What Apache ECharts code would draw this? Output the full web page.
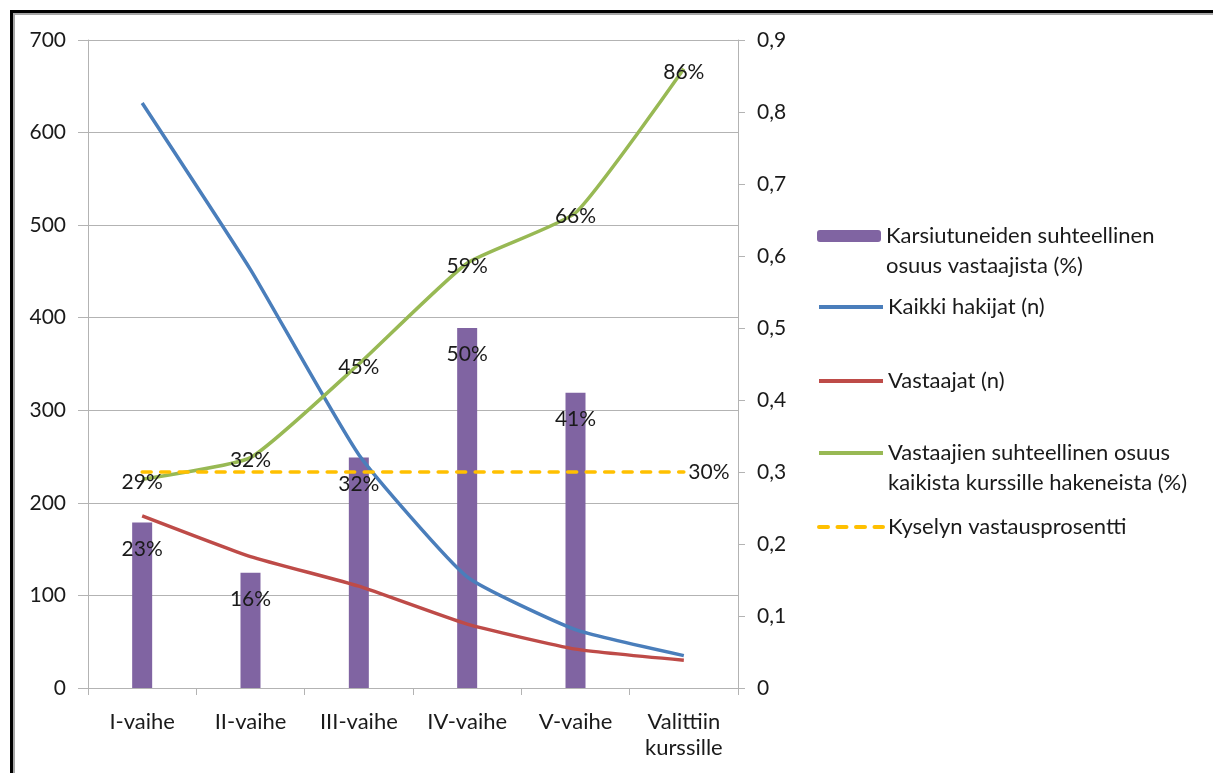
<!DOCTYPE html>
<html>
<head>
<meta charset="utf-8">
<script src="https://cdn.jsdelivr.net/npm/echarts@6/dist/echarts.min.js"></script>
<style>
  html, body { margin: 0; padding: 0; background: #fff; }
  #chart { position: absolute; left: 0; top: 0; width: 1213px; height: 773px; }
  #frame {
    position: absolute; left: 10px; top: 10px; right: -10px; bottom: -10px;
    border-left: 3px solid #000; border-top: 3px solid #000;
    box-shadow: inset 2px 2px 0 #a6a6a6;
    pointer-events: none;
  }
</style>
</head>
<body>
<div id="chart"></div>
<div id="frame"></div>
<script>
// Hakuvaiheet
const categories = ['I-vaihe', 'II-vaihe', 'III-vaihe', 'IV-vaihe', 'V-vaihe', 'Valittiin\nkurssille'];

// Karsiutuneiden suhteellinen osuus vastaajista (osuus, oikea akseli)
const karsiutuneet = [0.23, 0.16, 0.32, 0.50, 0.41, null];
// Kaikki hakijat (n, vasen akseli)
const kaikkiHakijat = [632, 452, 252, 120, 63, 35];
// Vastaajat (n, vasen akseli)
const vastaajat = [186, 142, 110, 69, 42, 30];
// Vastaajien suhteellinen osuus kaikista kurssille hakeneista (oikea akseli)
const vastaajienOsuus = [0.29, 0.32, 0.45, 0.59, 0.66, 0.86];
// Kyselyn vastausprosentti (oikea akseli)
const vastausprosentti = [0.30, 0.30, 0.30, 0.30, 0.30, 0.30];

const names = [
  'Karsiutuneiden suhteellinen\nosuus vastaajista (%)',
  'Kaikki hakijat (n)',
  'Vastaajat (n)',
  'Vastaajien suhteellinen osuus\nkaikista kurssille hakeneista (%)',
  'Kyselyn vastausprosentti'
];

const FONT = 'Lato';
const TXT = '#1a1a1a';
const GRID = '#b3b3b3';
const pct = v => Math.round(v * 100) + '%';

// One legend block per entry; two-line entries get an empty leading line so
// that the key sits beside the first line of text.
function legendFor(name, top) {
  const twoLines = name.indexOf('\n') >= 0;
  return {
    orient: 'vertical',
    left: 817,
    top: top,
    padding: 0,
    itemWidth: 64,
    itemHeight: 12,
    itemGap: 0,
    selectedMode: false,
    data: [name],
    formatter: n => (twoLines ? '\n' + n : n),
    lineStyle: { width: 4 },
    textStyle: { fontFamily: FONT, fontSize: 22, color: TXT, lineHeight: 30 }
  };
}

const hiddenSymbol = {
  symbol: 'circle', symbolSize: 1, showSymbol: true,
  itemStyle: { color: 'rgba(0,0,0,0)', borderWidth: 0 }
};

const chart = echarts.init(document.getElementById('chart'));
chart.setOption({
  animation: false,
  textStyle: { fontFamily: FONT },
  grid: { left: 88, right: 475, top: 40, bottom: 85, containLabel: false },
  legend: [
    legendFor(names[0], 191),
    legendFor(names[1], 292),
    legendFor(names[2], 366),
    legendFor(names[3], 408),
    legendFor(names[4], 512)
  ],
  xAxis: {
    type: 'category',
    data: categories,
    boundaryGap: true,
    axisLine: { show: true, lineStyle: { color: GRID, width: 1 } },
    axisTick: { show: true, length: 7, alignWithLabel: false, lineStyle: { color: GRID } },
    axisLabel: { color: TXT, fontSize: 22, fontFamily: FONT, margin: 21, lineHeight: 26, interval: 0 }
  },
  yAxis: [
    {
      type: 'value', min: 0, max: 700, interval: 100, position: 'left',
      axisLine: { show: true, lineStyle: { color: GRID } },
      axisTick: { show: true, length: 10, lineStyle: { color: GRID } },
      splitLine: { show: true, lineStyle: { color: GRID, width: 1 } },
      axisLabel: { color: TXT, fontSize: 21, fontFamily: FONT, margin: 22 }
    },
    {
      type: 'value', min: 0, max: 0.9, interval: 0.1, position: 'right',
      axisLine: { show: true, lineStyle: { color: GRID } },
      axisTick: { show: true, length: 7, lineStyle: { color: GRID } },
      splitLine: { show: false },
      axisLabel: {
        color: TXT, fontSize: 21, fontFamily: FONT, margin: 19,
        formatter: v => {
          const r = Math.round(v * 10) / 10;
          return r === 0 ? '0' : r.toFixed(1).replace('.', ',');
        }
      }
    }
  ],
  series: [
    {
      name: names[0], type: 'bar', yAxisIndex: 1,
      data: karsiutuneet, barWidth: 20,
      itemStyle: { color: '#8064A2' },
      label: {
        show: true, position: 'insideTop', distance: 16,
        color: TXT, fontSize: 21, fontFamily: FONT,
        formatter: p => pct(p.value)
      }
    },
    Object.assign({
      name: names[1], type: 'line', yAxisIndex: 0,
      data: kaikkiHakijat, smooth: 0.15,
      lineStyle: { color: '#4A7EBB', width: 3.5 }
    }, hiddenSymbol),
    Object.assign({
      name: names[2], type: 'line', yAxisIndex: 0,
      data: vastaajat, smooth: 0.15,
      lineStyle: { color: '#BE4B48', width: 3.5 }
    }, hiddenSymbol),
    Object.assign({
      name: names[3], type: 'line', yAxisIndex: 1,
      data: vastaajienOsuus, smooth: 0.15,
      lineStyle: { color: '#98B954', width: 3.5 },
      label: {
        show: true, position: 'inside', offset: [0, 3],
        color: TXT, fontSize: 21, fontFamily: FONT,
        formatter: p => pct(p.value)
      }
    }, hiddenSymbol),
    Object.assign({
      name: names[4], type: 'line', yAxisIndex: 1,
      data: vastausprosentti.map((v, i) => ({
        value: v,
        label: { show: i === vastausprosentti.length - 1 }
      })),
      lineStyle: { color: '#FFC000', width: 3.5, type: [9, 9.5], cap: 'round' },
      label: {
        show: false, position: 'right', distance: 4,
        color: TXT, fontSize: 21, fontFamily: FONT,
        formatter: p => pct(p.value)
      }
    }, hiddenSymbol)
  ]
});
</script>
</body>
</html>
